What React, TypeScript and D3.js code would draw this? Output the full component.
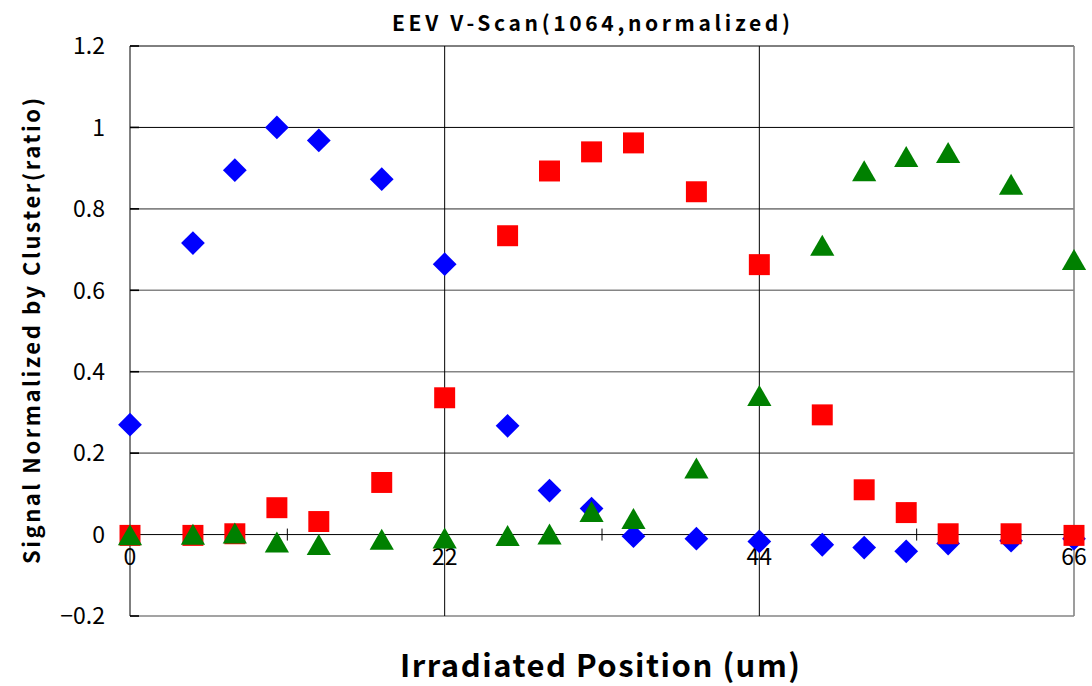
import * as d3 from 'd3';

const positions = [0, 4.4, 7.33, 10.27, 13.2, 17.6, 22, 26.4, 29.33, 32.27, 35.2, 39.6, 44, 48.4, 51.33, 54.27, 57.2, 61.6, 66];
const blueValues = [0.27, 0.716, 0.895, 1.0, 0.968, 0.873, 0.664, 0.267, 0.108, 0.064, -0.004, -0.01, -0.017, -0.025, -0.032, -0.041, -0.022, -0.015, -0.01];
const redValues = [-0.002, -0.002, 0.002, 0.066, 0.032, 0.128, 0.336, 0.734, 0.893, 0.94, 0.962, 0.842, 0.663, 0.294, 0.11, 0.054, 0.002, 0.002, -0.002];
const greenValues = [-0.004, -0.003, 0.0, -0.022, -0.028, -0.015, -0.012, -0.006, -0.002, 0.053, 0.036, 0.16, 0.338, 0.707, 0.89, 0.925, 0.935, 0.857, 0.672];

const yTicks = [1.2, 1, 0.8, 0.6, 0.4, 0.2, 0, -0.2];
const xMajor = [0, 22, 44, 66];
const xMinor = [11, 33, 55];

const font = '"Noto Sans CJK JP", "Noto Sans", sans-serif';

function App() {
  const width = 1092;
  const height = 686;
  const x = d3.scaleLinear([0, 66], [130, 1074]);
  const y = d3.scaleLinear([-0.2, 1.2], [616, 46]);

  const diamond = d3.symbol(d3.symbolDiamond2, 360)();
  const square = d3.symbol(d3.symbolSquare, 440)();
  const triangle = d3.symbol(d3.symbolTriangle2, 420)();

  const fmt = (v: number) => (v < 0 ? '\u2212' + Math.abs(v) : String(v));

  return (
    <svg width={width} height={height} style={{ position: 'absolute', left: 0, top: 0, background: '#fff' }}>
      {/* horizontal grid */}
      {[0.2, 0.4, 0.6, 0.8].map(v => (
        <line key={v} x1={x(0)} x2={x(66)} y1={y(v)} y2={y(v)} stroke="#858585" strokeWidth={1.6} />
      ))}
      <line x1={x(0)} x2={x(66)} y1={y(1)} y2={y(1)} stroke="#000" strokeWidth={1} />
      <line x1={x(0)} x2={x(66)} y1={y(1.2)} y2={y(1.2)} stroke="#000" strokeWidth={1} />
      <line x1={x(0)} x2={x(66)} y1={y(-0.2)} y2={y(-0.2)} stroke="#858585" strokeWidth={1.6} />
      {/* vertical grid */}
      {[22, 44].map(v => (
        <line key={v} x1={x(v)} x2={x(v)} y1={y(1.2)} y2={y(-0.2)} stroke="#000" strokeWidth={1} />
      ))}
      <line x1={x(66)} x2={x(66)} y1={y(1.2)} y2={y(-0.2)} stroke="#858585" strokeWidth={1.6} />
      {/* y axis */}
      <line x1={x(0)} x2={x(0)} y1={y(1.2)} y2={y(-0.2)} stroke="#000" strokeWidth={1} />
      {yTicks.map(v => (
        <g key={v}>
          <line x1={x(0)} x2={x(0) + 9} y1={y(v)} y2={y(v)} stroke="#000" strokeWidth={1.6} />
          <text x={105} y={y(v)} dy="0.36em" textAnchor="end" fontFamily={font} fontSize={23}>{fmt(v)}</text>
        </g>
      ))}
      {/* x axis at zero */}
      <line x1={x(0)} x2={x(66)} y1={y(0)} y2={y(0)} stroke="#000" strokeWidth={1} />
      {xMinor.map(v => (
        <line key={v} x1={x(v)} x2={x(v)} y1={y(0) - 6} y2={y(0) + 6} stroke="#000" strokeWidth={1} />
      ))}
      {xMajor.map(v => (
        <text key={v} x={x(v)} y={557} dy="0.36em" textAnchor="middle" fontFamily={font} fontSize={23}>{v}</text>
      ))}
      {/* series */}
      {positions.map((p, i) => (
        <path key={'b' + i} d={diamond ?? undefined} transform={`translate(${x(p)},${y(blueValues[i])})`} fill="#0000ff" />
      ))}
      {positions.map((p, i) => (
        <path key={'r' + i} d={square ?? undefined} transform={`translate(${x(p)},${y(redValues[i])})`} fill="#ff0000" />
      ))}
      {positions.map((p, i) => (
        <path key={'g' + i} d={triangle ?? undefined} transform={`translate(${x(p)},${y(greenValues[i]) + 2})`} fill="#008000" />
      ))}
      {/* titles */}
      <text x={591} y={23} dy="0.36em" textAnchor="middle" fontFamily={font} fontWeight="bold" fontSize={21} textLength={398} lengthAdjust="spacing">
        EEV V-Scan(1064,normalized)
      </text>
      <text transform={`translate(32,${331}) rotate(-90)`} dy="0.36em" textAnchor="middle" fontFamily={font} fontWeight="bold" fontSize={22} textLength={466} lengthAdjust="spacing">
        Signal Normalized by Cluster(ratio)
      </text>
      <text x={600} y={666} dy="0.36em" textAnchor="middle" fontFamily={font} fontWeight="bold" fontSize={31} textLength={400} lengthAdjust="spacing">
        Irradiated Position (um)
      </text>
    </svg>
  );
}

export default App;
